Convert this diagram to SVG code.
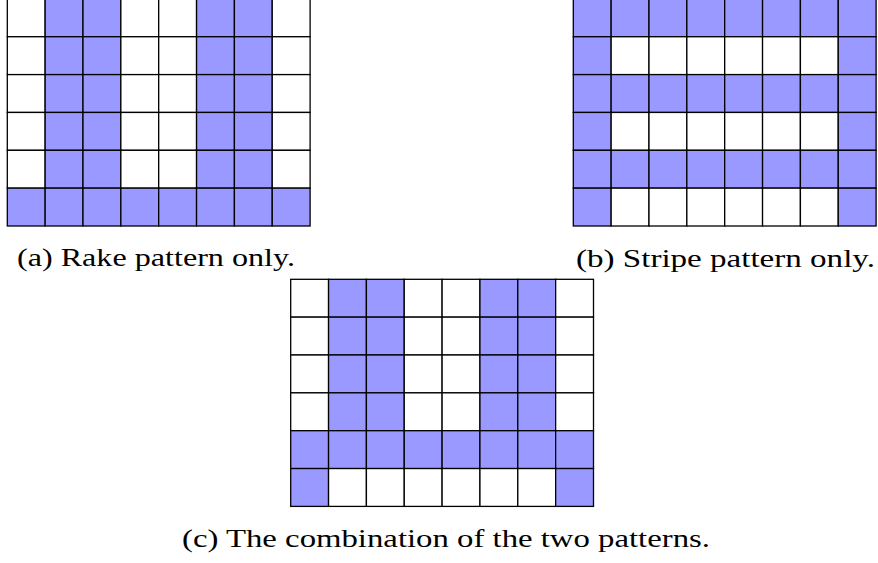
<svg xmlns="http://www.w3.org/2000/svg" width="878" height="563" viewBox="0 0 878 563">
<defs>
<style>
.w{fill:#ffffff;stroke:#000;stroke-width:1.3}
.b{fill:#9999ff;stroke:#000;stroke-width:1.3}
.cap{font-family:'Liberation Serif',serif;font-size:25px;fill:#000;text-anchor:middle}
</style>
</defs>
<rect x="0" y="0" width="878" height="563" fill="#fff"/>
<g id="grid-a" transform="translate(7.3,-1.1)">
<g>
<rect class="w" x="0" y="0" width="37.85" height="37.85"/><rect class="b" x="37.85" y="0" width="37.85" height="37.85"/><rect class="b" x="75.7" y="0" width="37.85" height="37.85"/><rect class="w" x="113.55" y="0" width="37.85" height="37.85"/><rect class="w" x="151.4" y="0" width="37.85" height="37.85"/><rect class="b" x="189.25" y="0" width="37.85" height="37.85"/><rect class="b" x="227.1" y="0" width="37.85" height="37.85"/><rect class="w" x="264.95" y="0" width="37.85" height="37.85"/>
</g>
<g transform="translate(0,37.85)">
<rect class="w" x="0" y="0" width="37.85" height="37.85"/><rect class="b" x="37.85" y="0" width="37.85" height="37.85"/><rect class="b" x="75.7" y="0" width="37.85" height="37.85"/><rect class="w" x="113.55" y="0" width="37.85" height="37.85"/><rect class="w" x="151.4" y="0" width="37.85" height="37.85"/><rect class="b" x="189.25" y="0" width="37.85" height="37.85"/><rect class="b" x="227.1" y="0" width="37.85" height="37.85"/><rect class="w" x="264.95" y="0" width="37.85" height="37.85"/>
</g>
<g transform="translate(0,75.7)">
<rect class="w" x="0" y="0" width="37.85" height="37.85"/><rect class="b" x="37.85" y="0" width="37.85" height="37.85"/><rect class="b" x="75.7" y="0" width="37.85" height="37.85"/><rect class="w" x="113.55" y="0" width="37.85" height="37.85"/><rect class="w" x="151.4" y="0" width="37.85" height="37.85"/><rect class="b" x="189.25" y="0" width="37.85" height="37.85"/><rect class="b" x="227.1" y="0" width="37.85" height="37.85"/><rect class="w" x="264.95" y="0" width="37.85" height="37.85"/>
</g>
<g transform="translate(0,113.55)">
<rect class="w" x="0" y="0" width="37.85" height="37.85"/><rect class="b" x="37.85" y="0" width="37.85" height="37.85"/><rect class="b" x="75.7" y="0" width="37.85" height="37.85"/><rect class="w" x="113.55" y="0" width="37.85" height="37.85"/><rect class="w" x="151.4" y="0" width="37.85" height="37.85"/><rect class="b" x="189.25" y="0" width="37.85" height="37.85"/><rect class="b" x="227.1" y="0" width="37.85" height="37.85"/><rect class="w" x="264.95" y="0" width="37.85" height="37.85"/>
</g>
<g transform="translate(0,151.4)">
<rect class="w" x="0" y="0" width="37.85" height="37.85"/><rect class="b" x="37.85" y="0" width="37.85" height="37.85"/><rect class="b" x="75.7" y="0" width="37.85" height="37.85"/><rect class="w" x="113.55" y="0" width="37.85" height="37.85"/><rect class="w" x="151.4" y="0" width="37.85" height="37.85"/><rect class="b" x="189.25" y="0" width="37.85" height="37.85"/><rect class="b" x="227.1" y="0" width="37.85" height="37.85"/><rect class="w" x="264.95" y="0" width="37.85" height="37.85"/>
</g>
<g transform="translate(0,189.25)">
<rect class="b" x="0" y="0" width="37.85" height="37.85"/><rect class="b" x="37.85" y="0" width="37.85" height="37.85"/><rect class="b" x="75.7" y="0" width="37.85" height="37.85"/><rect class="b" x="113.55" y="0" width="37.85" height="37.85"/><rect class="b" x="151.4" y="0" width="37.85" height="37.85"/><rect class="b" x="189.25" y="0" width="37.85" height="37.85"/><rect class="b" x="227.1" y="0" width="37.85" height="37.85"/><rect class="b" x="264.95" y="0" width="37.85" height="37.85"/>
</g>
</g>
<g id="grid-b" transform="translate(573.3,-1.1)">
<g>
<rect class="b" x="0" y="0" width="37.85" height="37.85"/><rect class="b" x="37.85" y="0" width="37.85" height="37.85"/><rect class="b" x="75.7" y="0" width="37.85" height="37.85"/><rect class="b" x="113.55" y="0" width="37.85" height="37.85"/><rect class="b" x="151.4" y="0" width="37.85" height="37.85"/><rect class="b" x="189.25" y="0" width="37.85" height="37.85"/><rect class="b" x="227.1" y="0" width="37.85" height="37.85"/><rect class="b" x="264.95" y="0" width="37.85" height="37.85"/>
</g>
<g transform="translate(0,37.85)">
<rect class="b" x="0" y="0" width="37.85" height="37.85"/><rect class="w" x="37.85" y="0" width="37.85" height="37.85"/><rect class="w" x="75.7" y="0" width="37.85" height="37.85"/><rect class="w" x="113.55" y="0" width="37.85" height="37.85"/><rect class="w" x="151.4" y="0" width="37.85" height="37.85"/><rect class="w" x="189.25" y="0" width="37.85" height="37.85"/><rect class="w" x="227.1" y="0" width="37.85" height="37.85"/><rect class="b" x="264.95" y="0" width="37.85" height="37.85"/>
</g>
<g transform="translate(0,75.7)">
<rect class="b" x="0" y="0" width="37.85" height="37.85"/><rect class="b" x="37.85" y="0" width="37.85" height="37.85"/><rect class="b" x="75.7" y="0" width="37.85" height="37.85"/><rect class="b" x="113.55" y="0" width="37.85" height="37.85"/><rect class="b" x="151.4" y="0" width="37.85" height="37.85"/><rect class="b" x="189.25" y="0" width="37.85" height="37.85"/><rect class="b" x="227.1" y="0" width="37.85" height="37.85"/><rect class="b" x="264.95" y="0" width="37.85" height="37.85"/>
</g>
<g transform="translate(0,113.55)">
<rect class="b" x="0" y="0" width="37.85" height="37.85"/><rect class="w" x="37.85" y="0" width="37.85" height="37.85"/><rect class="w" x="75.7" y="0" width="37.85" height="37.85"/><rect class="w" x="113.55" y="0" width="37.85" height="37.85"/><rect class="w" x="151.4" y="0" width="37.85" height="37.85"/><rect class="w" x="189.25" y="0" width="37.85" height="37.85"/><rect class="w" x="227.1" y="0" width="37.85" height="37.85"/><rect class="b" x="264.95" y="0" width="37.85" height="37.85"/>
</g>
<g transform="translate(0,151.4)">
<rect class="b" x="0" y="0" width="37.85" height="37.85"/><rect class="b" x="37.85" y="0" width="37.85" height="37.85"/><rect class="b" x="75.7" y="0" width="37.85" height="37.85"/><rect class="b" x="113.55" y="0" width="37.85" height="37.85"/><rect class="b" x="151.4" y="0" width="37.85" height="37.85"/><rect class="b" x="189.25" y="0" width="37.85" height="37.85"/><rect class="b" x="227.1" y="0" width="37.85" height="37.85"/><rect class="b" x="264.95" y="0" width="37.85" height="37.85"/>
</g>
<g transform="translate(0,189.25)">
<rect class="b" x="0" y="0" width="37.85" height="37.85"/><rect class="w" x="37.85" y="0" width="37.85" height="37.85"/><rect class="w" x="75.7" y="0" width="37.85" height="37.85"/><rect class="w" x="113.55" y="0" width="37.85" height="37.85"/><rect class="w" x="151.4" y="0" width="37.85" height="37.85"/><rect class="w" x="189.25" y="0" width="37.85" height="37.85"/><rect class="w" x="227.1" y="0" width="37.85" height="37.85"/><rect class="b" x="264.95" y="0" width="37.85" height="37.85"/>
</g>
</g>
<g id="grid-c" transform="translate(290.7,279.3)">
<g>
<rect class="w" x="0" y="0" width="37.85" height="37.85"/><rect class="b" x="37.85" y="0" width="37.85" height="37.85"/><rect class="b" x="75.7" y="0" width="37.85" height="37.85"/><rect class="w" x="113.55" y="0" width="37.85" height="37.85"/><rect class="w" x="151.4" y="0" width="37.85" height="37.85"/><rect class="b" x="189.25" y="0" width="37.85" height="37.85"/><rect class="b" x="227.1" y="0" width="37.85" height="37.85"/><rect class="w" x="264.95" y="0" width="37.85" height="37.85"/>
</g>
<g transform="translate(0,37.85)">
<rect class="w" x="0" y="0" width="37.85" height="37.85"/><rect class="b" x="37.85" y="0" width="37.85" height="37.85"/><rect class="b" x="75.7" y="0" width="37.85" height="37.85"/><rect class="w" x="113.55" y="0" width="37.85" height="37.85"/><rect class="w" x="151.4" y="0" width="37.85" height="37.85"/><rect class="b" x="189.25" y="0" width="37.85" height="37.85"/><rect class="b" x="227.1" y="0" width="37.85" height="37.85"/><rect class="w" x="264.95" y="0" width="37.85" height="37.85"/>
</g>
<g transform="translate(0,75.7)">
<rect class="w" x="0" y="0" width="37.85" height="37.85"/><rect class="b" x="37.85" y="0" width="37.85" height="37.85"/><rect class="b" x="75.7" y="0" width="37.85" height="37.85"/><rect class="w" x="113.55" y="0" width="37.85" height="37.85"/><rect class="w" x="151.4" y="0" width="37.85" height="37.85"/><rect class="b" x="189.25" y="0" width="37.85" height="37.85"/><rect class="b" x="227.1" y="0" width="37.85" height="37.85"/><rect class="w" x="264.95" y="0" width="37.85" height="37.85"/>
</g>
<g transform="translate(0,113.55)">
<rect class="w" x="0" y="0" width="37.85" height="37.85"/><rect class="b" x="37.85" y="0" width="37.85" height="37.85"/><rect class="b" x="75.7" y="0" width="37.85" height="37.85"/><rect class="w" x="113.55" y="0" width="37.85" height="37.85"/><rect class="w" x="151.4" y="0" width="37.85" height="37.85"/><rect class="b" x="189.25" y="0" width="37.85" height="37.85"/><rect class="b" x="227.1" y="0" width="37.85" height="37.85"/><rect class="w" x="264.95" y="0" width="37.85" height="37.85"/>
</g>
<g transform="translate(0,151.4)">
<rect class="b" x="0" y="0" width="37.85" height="37.85"/><rect class="b" x="37.85" y="0" width="37.85" height="37.85"/><rect class="b" x="75.7" y="0" width="37.85" height="37.85"/><rect class="b" x="113.55" y="0" width="37.85" height="37.85"/><rect class="b" x="151.4" y="0" width="37.85" height="37.85"/><rect class="b" x="189.25" y="0" width="37.85" height="37.85"/><rect class="b" x="227.1" y="0" width="37.85" height="37.85"/><rect class="b" x="264.95" y="0" width="37.85" height="37.85"/>
</g>
<g transform="translate(0,189.25)">
<rect class="b" x="0" y="0" width="37.85" height="37.85"/><rect class="w" x="37.85" y="0" width="37.85" height="37.85"/><rect class="w" x="75.7" y="0" width="37.85" height="37.85"/><rect class="w" x="113.55" y="0" width="37.85" height="37.85"/><rect class="w" x="151.4" y="0" width="37.85" height="37.85"/><rect class="w" x="189.25" y="0" width="37.85" height="37.85"/><rect class="w" x="227.1" y="0" width="37.85" height="37.85"/><rect class="b" x="264.95" y="0" width="37.85" height="37.85"/>
</g>
</g>
<g id="captions">
<text class="cap" x="156" y="266" textLength="278" lengthAdjust="spacingAndGlyphs">(a) Rake pattern only.</text>
<text class="cap" x="725.5" y="266.5" textLength="299" lengthAdjust="spacingAndGlyphs">(b) Stripe pattern only.</text>
<text class="cap" x="446" y="546.5" textLength="528" lengthAdjust="spacingAndGlyphs">(c) The combination of the two patterns.</text>
</g>
</svg>
